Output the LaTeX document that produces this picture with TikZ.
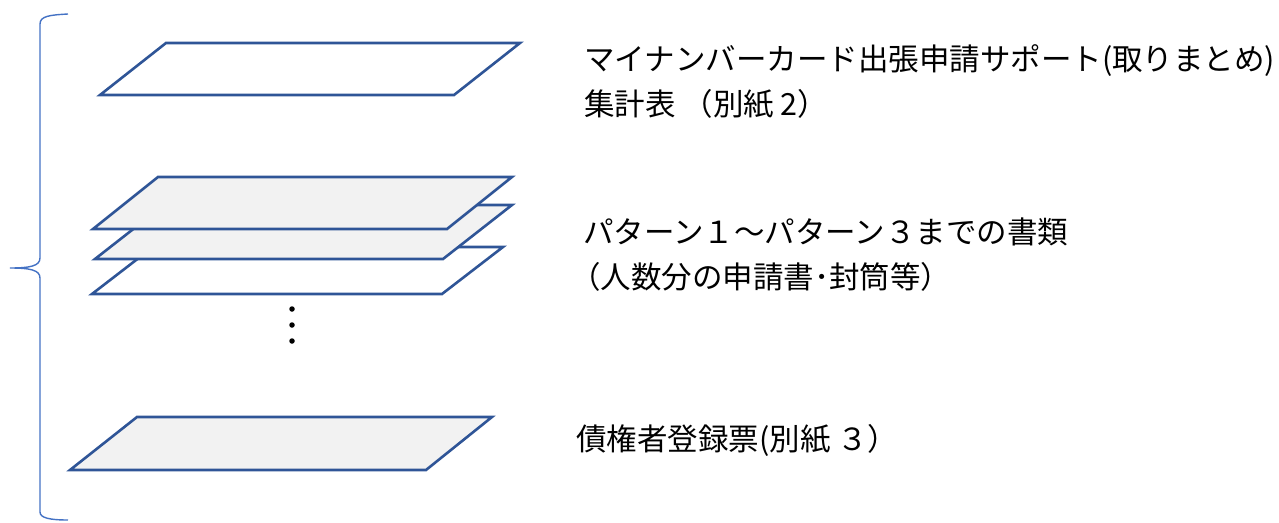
\documentclass[tikz,border=0pt]{standalone}
\usepackage{fontspec}
\newfontfamily\jp{Noto Sans CJK JP}
\definecolor{sheetline}{RGB}{47,85,151}
\definecolor{sheetfill}{RGB}{242,242,242}
\definecolor{bracecol}{RGB}{68,114,196}
\tikzset{
  sheet/.style={draw=sheetline,line width=2.6pt,line join=miter},
  greysheet/.style={sheet,fill=sheetfill},
  whitesheet/.style={sheet,fill=white},
  label/.style={anchor=west,inner sep=0pt,align=left,font=\jp\fontsize{30.5pt}{45pt}\selectfont},
  dot/.style={circle,fill=black,inner sep=0pt,minimum size=5.5pt}
}
\begin{document}
\begin{tikzpicture}[x=1pt,y=-1pt]
\useasboundingbox (0,0) rectangle (1279,522);
% brace
\draw[bracecol,line width=1.4pt] (68,14) .. controls (50,15) and (40,16) .. (40,24) -- (40,258)
  .. controls (40,266) and (30,268) .. (10,268) .. controls (30,268) and (40,270) .. (40,278)
  -- (40,512) .. controls (40,518) and (50,520) .. (68,520);
% top sheet
\draw[whitesheet] (166,43) -- (520,43) -- (454,95) -- (100,95) -- cycle;
% stack
\draw[whitesheet] (153,247) -- (503,247) -- (442,294) -- (92,294) -- cycle;
\draw[greysheet] (164,205) -- (512,205) -- (443,259) -- (95,259) -- cycle;
\draw[greysheet] (158,177) -- (512,177) -- (447,229) -- (93,229) -- cycle;
% dots
\node[dot] (d1) at (292,309) {};
\node[dot] (d2) at (292,325) {};
\node[dot] (d3) at (292,341) {};
% bottom sheet
\draw[greysheet] (137,417) -- (492,417) -- (426,470) -- (70,470) -- cycle;
% labels
\node[label] (t1) at (584,82) {マイナンバーカード出張申請サポート(取りまとめ)\\集計表 （別紙 2）};
\node[label] (t2a) at (583,232) {パターン１～パターン３までの書類};
\node[label] (t2b) at (570,277) {（人数分の申請書･封筒等）};
\node[label] (t3) at (576,440) {債権者登録票(別紙 ３）};
\end{tikzpicture}
\end{document}
